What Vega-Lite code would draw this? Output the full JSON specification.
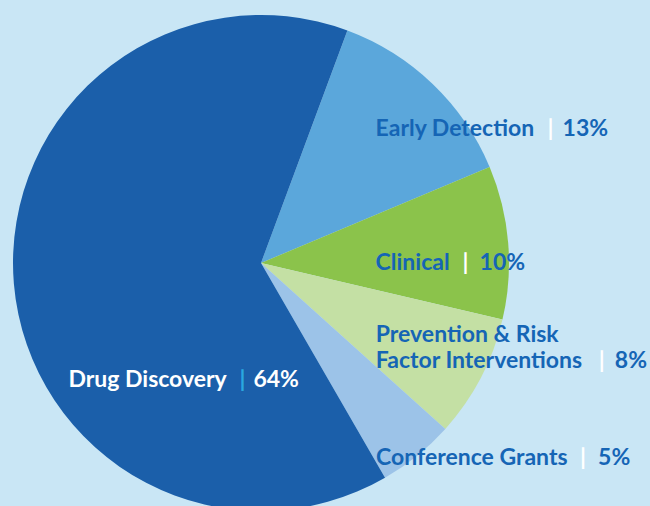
{
  "$schema": "https://vega.github.io/schema/vega-lite/v6.json",
  "width": 522,
  "height": 486,
  "autosize": {"type": "none"},
  "padding": {"left": 0, "top": 20, "right": 128, "bottom": 0},
  "background": "#c9e6f5",
  "config": {"view": {"stroke": null}},
  "data": {
    "values": [
      {"category": "Early Detection", "share": 0.13, "rank": 1},
      {"category": "Clinical", "share": 0.10, "rank": 2},
      {"category": "Prevention & Risk Factor Interventions", "share": 0.08, "rank": 3},
      {"category": "Conference Grants", "share": 0.05, "rank": 4},
      {"category": "Drug Discovery", "share": 0.64, "rank": 5}
    ]
  },
  "encoding": {
    "theta": {"field": "share", "type": "quantitative", "stack": true, "scale": {"domain": [0, 1], "range": [0.356, 6.639]}},
    "order": {"field": "rank", "type": "quantitative"}
  },
  "layer": [
    {
      "mark": {"type": "arc", "outerRadius": 248, "stroke": null},
      "encoding": {
        "color": {"field": "category", "type": "nominal", "legend": null,
          "scale": {"domain": ["Early Detection", "Clinical", "Prevention & Risk Factor Interventions", "Conference Grants", "Drug Discovery"],
                    "range": ["#5ba7db", "#8bc34b", "#c4e0a4", "#9cc3e8", "#1b5faa"]}}
      }
    },
    {"mark": {"type": "text", "radius": 180, "align": "left", "baseline": "alphabetic", "dx": -10, "dy": 3, "font": "Lato", "fontSize": 23, "fontWeight": "bold", "fill": "#1565b5"},
     "encoding": {"text": {"condition": {"test": "datum.category === 'Early Detection'", "value": "Early Detection"}, "value": ""}}},
    {"mark": {"type": "text", "radius": 180, "align": "center", "baseline": "alphabetic", "dx": 165, "dy": 3, "font": "Lato", "fontSize": 23, "fontWeight": "bold", "fill": "#ffffff"},
     "encoding": {"text": {"condition": {"test": "datum.category === 'Early Detection'", "value": "|"}, "value": ""}}},
    {"mark": {"type": "text", "radius": 180, "align": "left", "baseline": "alphabetic", "dx": 177, "dy": 3, "font": "Lato", "fontSize": 23, "fontWeight": "bold", "fill": "#1565b5"},
     "encoding": {"text": {"condition": {"test": "datum.category === 'Early Detection'", "field": "share", "format": ".0%"}, "value": ""}}},

    {"mark": {"type": "text", "radius": 120, "align": "left", "baseline": "alphabetic", "dx": -5, "dy": 17, "font": "Lato", "fontSize": 23, "fontWeight": "bold", "fill": "#1565b5"},
     "encoding": {"text": {"condition": {"test": "datum.category === 'Clinical'", "value": "Clinical"}, "value": ""}}},
    {"mark": {"type": "text", "radius": 120, "align": "center", "baseline": "alphabetic", "dx": 85, "dy": 17, "font": "Lato", "fontSize": 23, "fontWeight": "bold", "fill": "#ffffff"},
     "encoding": {"text": {"condition": {"test": "datum.category === 'Clinical'", "value": "|"}, "value": ""}}},
    {"mark": {"type": "text", "radius": 120, "align": "left", "baseline": "alphabetic", "dx": 99, "dy": 17, "font": "Lato", "fontSize": 23, "fontWeight": "bold", "fill": "#1565b5"},
     "encoding": {"text": {"condition": {"test": "datum.category === 'Clinical'", "field": "share", "format": ".0%"}, "value": ""}}},

    {"mark": {"type": "text", "radius": 160, "align": "left", "baseline": "alphabetic", "dx": -27, "dy": 5, "lineHeight": 26, "font": "Lato", "fontSize": 23, "fontWeight": "bold", "fill": "#1565b5"},
     "encoding": {"text": {"condition": {"test": "datum.category === 'Prevention & Risk Factor Interventions'", "value": ["Prevention & Risk", "Factor Interventions"]}, "value": ""}}},
    {"mark": {"type": "text", "radius": 160, "align": "center", "baseline": "alphabetic", "dx": 199, "dy": 31, "font": "Lato", "fontSize": 23, "fontWeight": "bold", "fill": "#ffffff"},
     "encoding": {"text": {"condition": {"test": "datum.category === 'Prevention & Risk Factor Interventions'", "value": "|"}, "value": ""}}},
    {"mark": {"type": "text", "radius": 160, "align": "left", "baseline": "alphabetic", "dx": 212, "dy": 31, "font": "Lato", "fontSize": 23, "fontWeight": "bold", "fill": "#1565b5"},
     "encoding": {"text": {"condition": {"test": "datum.category === 'Prevention & Risk Factor Interventions'", "field": "share", "format": ".0%"}, "value": ""}}},

    {"mark": {"type": "text", "radius": 240, "align": "left", "baseline": "alphabetic", "dx": -36, "dy": 16, "font": "Lato", "fontSize": 23, "fontWeight": "bold", "fill": "#1565b5"},
     "encoding": {"text": {"condition": {"test": "datum.category === 'Conference Grants'", "value": "Conference Grants"}, "value": ""}}},
    {"mark": {"type": "text", "radius": 240, "align": "center", "baseline": "alphabetic", "dx": 171, "dy": 16, "font": "Lato", "fontSize": 23, "fontWeight": "bold", "fill": "#ffffff"},
     "encoding": {"text": {"condition": {"test": "datum.category === 'Conference Grants'", "value": "|"}, "value": ""}}},
    {"mark": {"type": "text", "radius": 240, "align": "left", "baseline": "alphabetic", "dx": 186, "dy": 16, "font": "Lato", "fontSize": 23, "fontWeight": "bold", "fill": "#1565b5"},
     "encoding": {"text": {"condition": {"test": "datum.category === 'Conference Grants'", "field": "share", "format": ".0%"}, "value": ""}}},

    {"mark": {"type": "text", "radius": 120, "align": "left", "baseline": "alphabetic", "dx": -73, "dy": 114, "font": "Lato", "fontSize": 23, "fontWeight": "bold", "fill": "#ffffff"},
     "encoding": {"text": {"condition": {"test": "datum.category === 'Drug Discovery'", "value": "Drug Discovery"}, "value": ""}}},
    {"mark": {"type": "text", "radius": 120, "align": "center", "baseline": "alphabetic", "dx": 101, "dy": 114, "font": "Lato", "fontSize": 23, "fontWeight": "bold", "fill": "#2aa8e0"},
     "encoding": {"text": {"condition": {"test": "datum.category === 'Drug Discovery'", "value": "|"}, "value": ""}}},
    {"mark": {"type": "text", "radius": 120, "align": "left", "baseline": "alphabetic", "dx": 112, "dy": 114, "font": "Lato", "fontSize": 23, "fontWeight": "bold", "fill": "#ffffff"},
     "encoding": {"text": {"condition": {"test": "datum.category === 'Drug Discovery'", "field": "share", "format": ".0%"}, "value": ""}}}
  ]
}
